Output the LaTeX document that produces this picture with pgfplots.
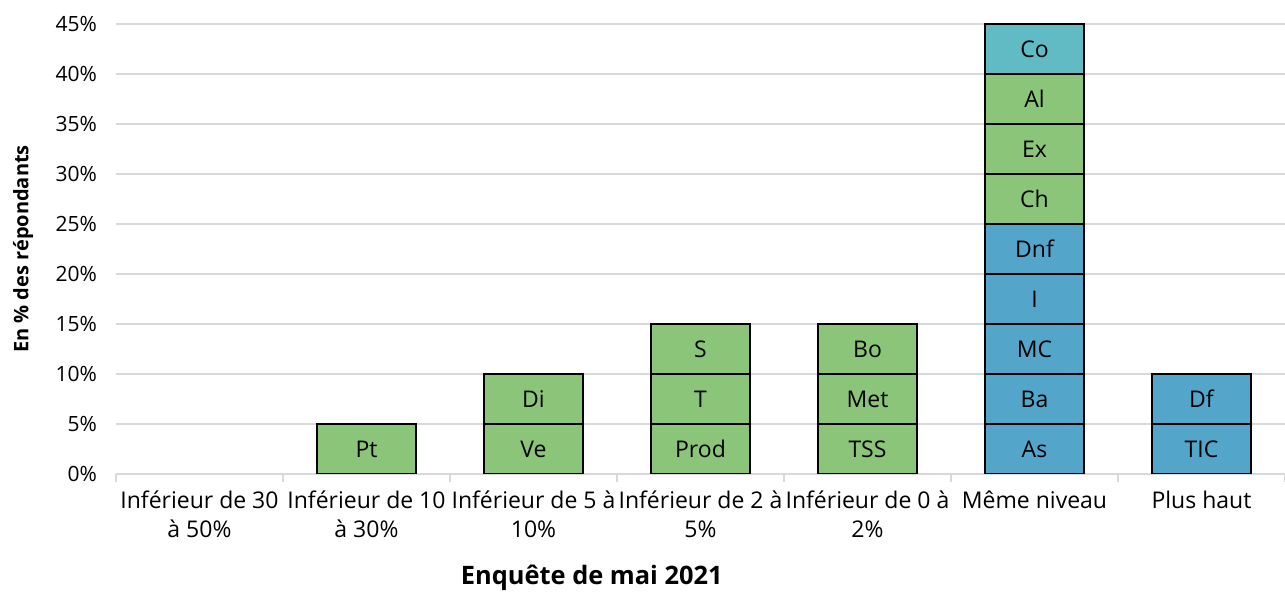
\documentclass[border=0pt]{standalone}
\usepackage{pgfplots}
\pgfplotsset{compat=1.18}
\usepackage{fontspec}
\setmainfont{Open Sans}
\definecolor{cgreen}{RGB}{139,197,121}
\definecolor{cblue}{RGB}{84,165,202}
\definecolor{cteal}{RGB}{96,187,196}
\definecolor{cgrid}{RGB}{217,217,217}
\begin{document}
\begin{tikzpicture}
\useasboundingbox (0,0) rectangle (642.5pt,296pt);
\begin{axis}[
  at={(58pt,59pt)}, anchor=south west,
  scale only axis, width=584.5pt, height=225pt,
  xmin=-0.5, xmax=6.5, ymin=0, ymax=45,
  ybar, bar shift=0pt, bar width=0.59,
  axis x line*=bottom, axis y line*=left,
  x axis line style={-, draw=cgrid, line width=0.8pt},
  y axis line style={draw=none},
  ymajorgrids, grid style={cgrid, line width=0.8pt},
  ytick={0,5,...,45},
  yticklabel={\pgfmathprintnumber{\tick}\%},
  /pgf/number format/assume math mode=true,
  xtick={0,...,6},
  xticklabels={{Inférieur de 30\\à 50\%},{Inférieur de 10\\à 30\%},{Inférieur de 5 à\\10\%},{Inférieur de 2 à\\5\%},{Inférieur de 0 à\\2\%},{Même niveau},{Plus haut}},
  minor xtick={-0.5,0.5,...,6.5},
  tick align=outside,
  major tick length=0pt,
  minor tick length=4pt,
  minor tick style={cgrid, line width=0.8pt},
  yticklabel style={font=\fontsize{10.5}{13.5}\selectfont, xshift=-6pt},
  xticklabel style={font=\fontsize{11.5}{14.5}\selectfont, align=center, anchor=north, yshift=-5pt},
  every axis y label/.style={at={(axis description cs:-0.0795,0.5)}, rotate=90, anchor=center, font=\bfseries\fontsize{10}{12}\selectfont},
  every axis x label/.style={at={(axis description cs:0.407,0)}, anchor=center, yshift=-52pt, font=\bfseries\fontsize{12.7}{15}\selectfont},
  ylabel={En \% des répondants},
  xlabel={Enquête de mai 2021},
  nodes near coords,
  point meta=explicit symbolic,
  nodes near coords align={center},
  every node near coord/.append style={yshift=-12.5pt, font=\fontsize{11.5}{13.5}\selectfont, text=black},
  every axis plot/.append style={draw=black, line width=1pt},
]
\addplot[fill=cteal] coordinates {(5,45) [Co]};
\addplot[fill=cgreen] coordinates {(5,40) [Al]};
\addplot[fill=cgreen] coordinates {(5,35) [Ex]};
\addplot[fill=cgreen] coordinates {(5,30) [Ch]};
\addplot[fill=cblue] coordinates {(5,25) [Dnf]};
\addplot[fill=cblue] coordinates {(5,20) [I]};
\addplot[fill=cgreen] coordinates {(3,15) [S] (4,15) [Bo]};
\addplot[fill=cblue] coordinates {(5,15) [MC]};
\addplot[fill=cgreen] coordinates {(2,10) [Di] (3,10) [T] (4,10) [Met]};
\addplot[fill=cblue] coordinates {(5,10) [Ba] (6,10) [Df]};
\addplot[fill=cgreen] coordinates {(1,5) [Pt] (2,5) [Ve] (3,5) [Prod] (4,5) [TSS]};
\addplot[fill=cblue] coordinates {(5,5) [As] (6,5) [TIC]};
\end{axis}
\end{tikzpicture}
\end{document}
